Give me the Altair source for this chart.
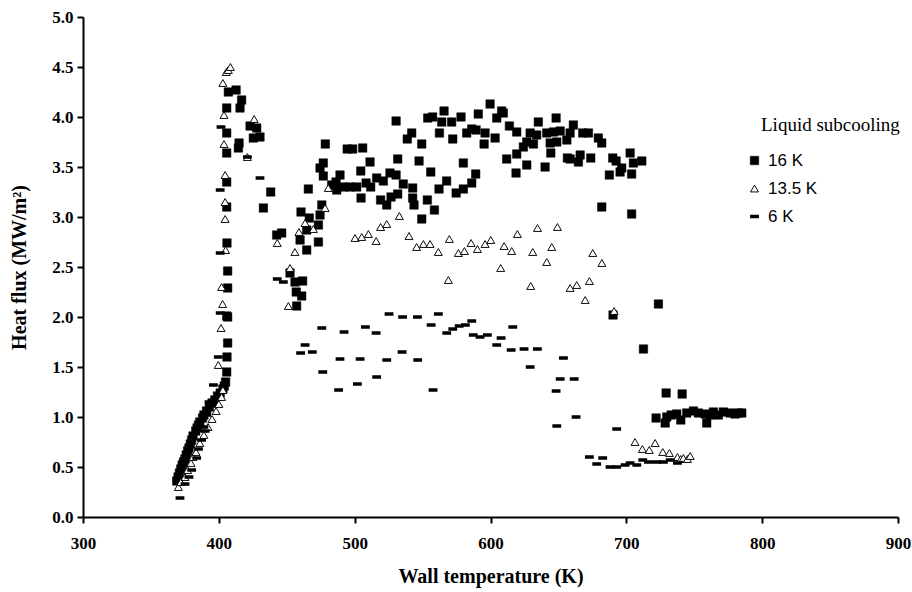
import altair as alt
import pandas as pd

# ---------------- data ----------------
series_names = ["16 K", "13.5 K", "6 K"]

t16 = [369, 370, 371, 372, 373, 374, 375, 376, 377, 378, 379, 380, 381, 383, 384, 385, 386, 388, 389, 391,
       393, 395, 397, 399, 401, 403, 404, 405,
       405.8, 406, 406.5, 406.5, 405.8, 406.5, 406.5, 406, 405.8, 405.8, 405.8, 405.8, 405.8, 407,
       412.7, 416.8, 415.6, 423, 427.9, 425.4, 430.3, 414.9, 414.4, 438.2, 432.8,
       442.6, 446.3, 452.4, 456.1, 461.7, 457, 461, 457.3, 459.8, 464.7, 473.3, 464.7, 460.5, 466.6,
       474.5, 473.3, 475.8, 465.9, 476.9, 474.5, 476.9, 478.4, 483.1, 489.2, 486.3, 491.7, 486.8, 496.6,
       501.5, 494.5, 498.5, 505.9, 504.5, 504.7, 508.4, 511.8, 511.3, 516.2, 521.1, 519.1, 523.6, 526.8,
       531.7, 526, 530.5, 531.7, 530.5, 535.8, 538.7, 542, 542.7, 542.7, 543.7, 547.4, 549.4, 549.4,
       553.5, 553.8, 557.4, 556, 558.7, 562.1, 562.4, 564.1, 565.8, 567.7, 571.4, 572.2, 574.7, 578.3,
       580, 580, 582.5, 586.2, 586.2, 589.1, 589.4, 591, 595.3, 596, 599.7, 603.4, 604.6, 608.2, 609.4,
       611.9, 613.9, 618.8, 619.3, 619.3, 624.2, 626.7, 626.7, 629.2, 631.6, 634, 635.2, 640.2, 641.4,
       643.9, 644.4, 646.3, 648.3, 648.8, 651.3, 656.2, 656.6, 658.6, 658.6, 661, 664.7, 666, 667.9,
       672.1, 673.8, 679.4, 681.9, 681.9, 687.5, 690, 692.5, 695.4, 696.6, 702.8, 703.9, 703.9, 705.2,
       711.4, 690.2, 723.6, 712.6, 729.3, 741.1,
       721.9, 728.6, 729.8, 733, 737.1, 740.1, 744.5, 749.4, 753, 758, 759.2, 762, 764.1, 767.8, 771.4,
       776.4, 780, 782.5, 785]
q16 = [0.36, 0.40, 0.44, 0.48, 0.52, 0.55, 0.58, 0.62, 0.66, 0.69, 0.73, 0.77, 0.81, 0.86, 0.89, 0.92,
       0.95, 0.99, 1.02, 1.06, 1.10, 1.14, 1.17, 1.21, 1.24, 1.28, 1.31, 1.35,
       1.45, 1.60, 1.74, 2.00, 2.01, 2.29, 2.46, 2.74, 3.10, 3.35, 3.64, 3.84, 4.09, 4.25,
       4.27, 4.17, 4.09, 3.91, 3.89, 3.79, 3.80, 3.74, 3.69, 3.25, 3.09,
       2.82, 2.84, 2.44, 2.35, 2.36, 2.25, 2.21, 2.11, 2.77, 2.67, 2.75, 2.87, 3.05, 2.99,
       3.02, 2.92, 3.12, 3.28, 3.54, 3.49, 3.41, 3.73, 3.32, 3.42, 3.35, 3.30, 3.27, 3.30,
       3.30, 3.68, 3.68, 3.69, 3.46, 3.19, 3.34, 3.30, 3.55, 3.39, 3.36, 3.17, 3.12, 3.20,
       3.23, 3.44, 3.42, 3.58, 3.96, 3.33, 3.78, 3.84, 3.29, 3.19, 3.12, 3.56, 3.73, 2.98,
       3.17, 3.99, 4.00, 3.45, 3.07, 3.28, 3.84, 3.95, 4.06, 3.36, 3.95, 3.78, 3.24, 4.00,
       3.28, 3.54, 3.84, 3.34, 3.88, 3.43, 3.87, 4.03, 3.73, 3.84, 4.13, 3.79, 3.99, 4.06, 4.04,
       3.58, 3.91, 3.44, 3.63, 3.85, 3.70, 3.75, 3.52, 3.84, 3.73, 3.82, 3.95, 3.50, 3.84,
       3.74, 3.64, 3.85, 3.99, 3.75, 3.86, 3.77, 3.59, 3.58, 3.84, 3.92, 3.55, 3.62, 3.84,
       3.84, 3.59, 3.79, 3.74, 3.10, 3.42, 3.59, 3.56, 3.45, 3.49, 3.64, 3.43, 3.03, 3.54,
       3.56, 2.02, 2.13, 1.68, 1.24, 1.23,
       0.99, 0.94, 1.00, 1.02, 1.03, 0.97, 1.04, 1.06, 1.04, 1.03, 0.94, 1.02, 1.05, 1.02, 1.05,
       1.04, 1.03, 1.04, 1.04]

t13 = [370.2, 372, 375.1, 377, 379.5, 381, 383.2, 386, 389, 392, 395, 398, 400, 402, 403,
       399.6, 401.6, 402.8, 402, 405, 404.6, 404.6, 404.6, 403.8, 403.8, 403, 405.5, 407, 408.5,
       426, 421,
       443, 451.2, 452.4, 456, 459, 463.5, 469.6, 478.2, 480.6,
       500.3, 505.2, 510.1, 515.8, 519.1, 523.6, 532.9, 540, 545.6, 550.6, 555.5, 561.6, 569.7, 569,
       576.4, 580.8, 585.7, 590.4, 596, 600.2, 607.5, 610, 615.6, 619.8, 629.6, 631.1, 634.6, 641.4,
       645.1, 649.3, 658.6, 663.5, 669.7, 672.8, 675.3, 682, 691,
       706.4, 711.8, 716.9, 721.2, 726.8, 731.7, 737.6, 740, 742, 745, 747]
q13 = [0.30, 0.35, 0.40, 0.47, 0.54, 0.60, 0.65, 0.74, 0.82, 0.90, 0.98, 1.06, 1.13, 1.20, 1.27,
       1.52, 1.89, 2.13, 2.30, 2.67, 2.98, 3.15, 3.42, 3.73, 4.02, 4.34, 4.45, 4.47, 4.50,
       3.98, 3.60,
       2.74, 2.11, 2.49, 2.65, 2.85, 2.94, 2.88, 3.09, 3.29,
       2.79, 2.80, 2.83, 2.76, 2.90, 2.93, 3.01, 2.81, 2.70, 2.73, 2.73, 2.65, 2.78, 2.37,
       2.64, 2.66, 2.74, 2.68, 2.73, 2.77, 2.49, 2.71, 2.66, 2.83, 2.31, 2.65, 2.89, 2.55,
       2.70, 2.90, 2.29, 2.32, 2.17, 2.36, 2.64, 2.54, 2.06,
       0.75, 0.68, 0.67, 0.74, 0.65, 0.64, 0.60, 0.58, 0.59, 0.58, 0.61]

t6 = [371.4, 375.1, 378, 380, 383.7, 385, 387.3, 389, 390, 391, 392.8, 396, 399.6, 401, 401, 401,
      401.6, 421, 430.3, 443, 447.5,
      460.2, 463.5, 468.8, 475.8, 476.5, 488.2, 489.2, 492.2, 502, 504, 507.9, 515.8, 516.2, 523.6,
      525.3, 534.9, 535.3, 546.2, 546.4, 556.3, 557.7, 561.6, 567.8, 572.2, 576.9, 581.5, 586.2,
      587.3, 592.3, 597.7, 604.6, 607.8, 615.2, 616.4, 624.7, 629.2, 634.5, 648.3, 648.8, 651.3,
      653.7, 661.6, 663, 692.9,
      672.8, 682.6, 678.2, 688, 692.9, 699.1, 702.8, 707.7, 712.1, 716.3, 722.4, 727.3, 732.3, 737.6]
q6 = [0.19, 0.33, 0.40, 0.47, 0.59, 0.68, 0.77, 0.90, 0.86, 1.02, 1.15, 1.32, 1.60, 2.04, 2.64, 3.27,
      3.90, 3.60, 3.39, 2.38, 2.35,
      1.64, 1.72, 1.65, 1.89, 1.45, 1.27, 1.58, 1.85, 1.33, 1.58, 1.90, 1.84, 1.40, 1.57,
      2.03, 1.65, 2.00, 2.00, 1.57, 1.92, 1.27, 2.03, 1.84, 1.88, 1.91, 1.92, 1.96,
      1.82, 1.80, 1.82, 1.72, 1.79, 1.67, 1.90, 1.68, 1.50, 1.68, 1.26, 0.91, 1.38,
      1.59, 1.38, 1.00, 0.88,
      0.60, 0.59, 0.53, 0.50, 0.50, 0.52, 0.54, 0.52, 0.57, 0.55, 0.55, 0.55, 0.57, 0.54]

x_ticks = [300, 400, 500, 600, 700, 800, 900]
y_ticks = [0, 0.5, 1.0, 1.5, 2.0, 2.5, 3.0, 3.5, 4.0, 4.5, 5.0]
legend_title = ["Liquid subcooling"]

# ---------------- table ----------------
rows = []
for name, ts, qs in zip(series_names, [t16, t13, t6], [q16, q13, q6]):
    rows += [{"T": t, "q": q, "series": name} for t, q in zip(ts, qs)]
df = pd.DataFrame(rows)

dash_path = "M-1,-0.28L1,-0.28L1,0.28L-1,0.28Z"

leg = alt.Legend(
    title=None, orient="none", legendX=663, legendY=135,
    labelFont="Liberation Sans", labelFontSize=17, labelColor="black", labelOffset=5,
    rowPadding=10,
)

points = alt.Chart(df).mark_point(filled=True, opacity=1).encode(
    x=alt.X("T:Q", scale=alt.Scale(domain=[300, 900], nice=False, zero=False),
            axis=alt.Axis(values=x_ticks, title="Wall temperature (K)", format="d", labelFlush=False)),
    y=alt.Y("q:Q", scale=alt.Scale(domain=[0, 5], nice=False),
            axis=alt.Axis(values=y_ticks, title="Heat flux (MW/m²)", format=".1f", labelFlush=False)),
    shape=alt.Shape("series:N",
                    scale=alt.Scale(domain=series_names, range=["square", "triangle-up", dash_path]),
                    legend=leg),
    fill=alt.Fill("series:N",
                  scale=alt.Scale(domain=series_names, range=["black", "white", "black"]),
                  legend=leg),
    stroke=alt.Stroke("series:N",
                      scale=alt.Scale(domain=series_names, range=["black", "black", "black"]),
                      legend=leg),
    size=alt.Size("series:N", scale=alt.Scale(domain=series_names, range=[72, 55, 100]), legend=leg),
    strokeWidth=alt.StrokeWidth("series:N", scale=alt.Scale(domain=series_names, range=[0.5, 1.4, 0.01]),
                                legend=leg),
)

title_text = alt.Chart(pd.DataFrame({"t": legend_title})).mark_text(
    font="Liberation Serif", fontSize=19, align="left", baseline="middle", color="black"
).encode(text="t:N", x=alt.value(678), y=alt.value(108))

chart = alt.layer(points, title_text).properties(
    width=815, height=500,
    autosize=alt.AutoSizeParams(type="none"),
    padding={"left": 83, "top": 17, "right": 14, "bottom": 75},
).configure_view(stroke=None).configure_axis(
    grid=False, domainColor="black", domainWidth=2, tickColor="black", tickWidth=2, tickSize=6,
    labelFont="Liberation Serif", labelFontWeight="bold", labelFontSize=17, labelColor="black",
    titleFont="Liberation Serif", titleFontWeight="bold", titleFontSize=20, titleColor="black",
).configure_axisX(labelPadding=12, titlePadding=15).configure_axisY(labelPadding=4, titlePadding=22)

chart.save("out.html", embed_options={"renderer": "svg", "actions": False})
